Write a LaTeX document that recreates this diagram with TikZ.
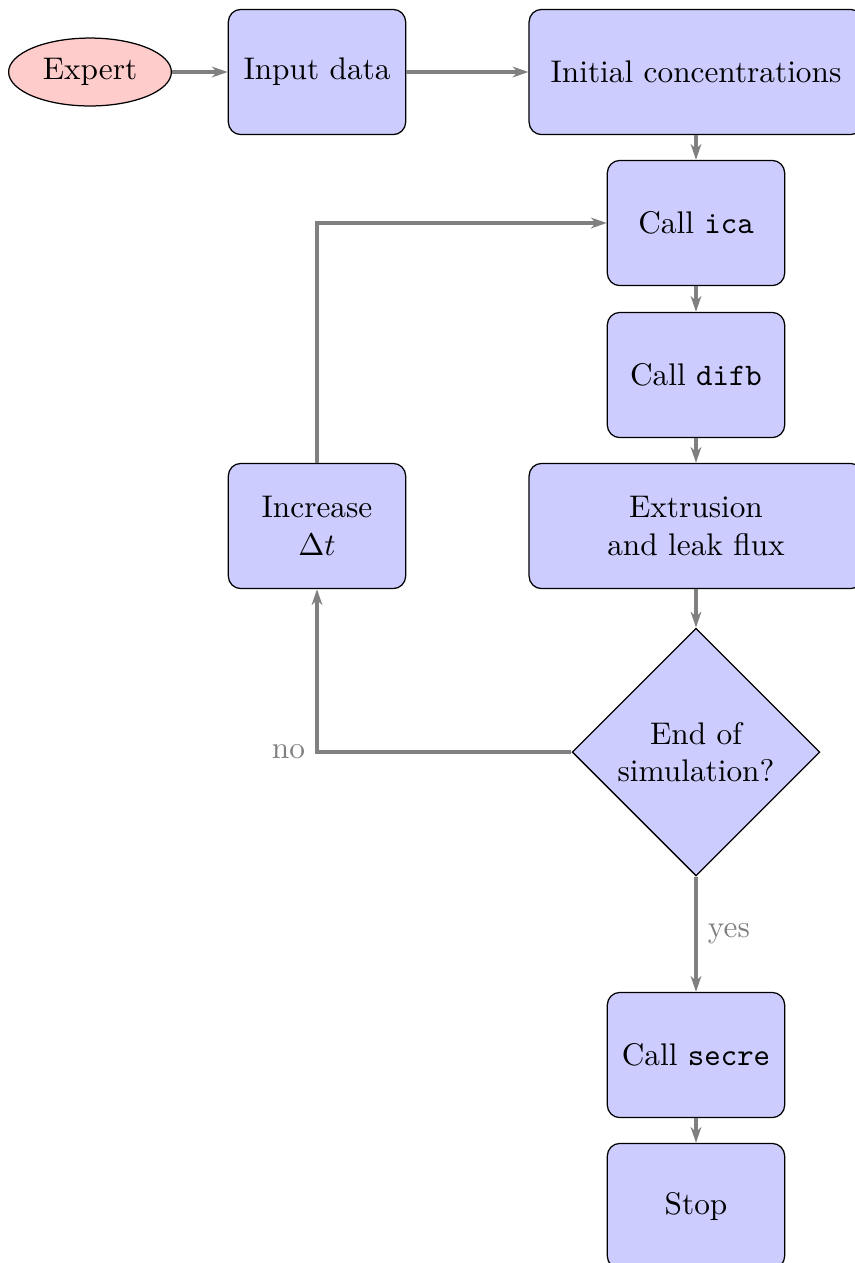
\documentclass[tikz,border=0pt]{standalone}
\usetikzlibrary{shapes.geometric,arrows.meta}
\begin{document}
\begin{tikzpicture}[
    x=0.3195pt, y=-0.3195pt,
    block/.style={rectangle, draw, fill=blue!20, text width=5em, align=center,
                  rounded corners, minimum height=4em},
    wideblock/.style={block, text width=10em},
    decision/.style={diamond, draw, fill=blue!20, text width=6em, align=center,
                     inner sep=0pt, minimum width=79pt, minimum height=79pt},
    cloud/.style={ellipse, draw, fill=red!20, inner sep=0pt,
                  minimum width=52pt, minimum height=21.7pt},
    flow/.style={draw=gray, line width=1pt, -{Stealth[length=5pt,width=3.4pt,inset=1.5pt]}},
    lbl/.style={text=gray}
  ]
  \useasboundingbox (0,0) rectangle (854,1263);

  % nodes
  \node[cloud]      (expert)  at (90,72)   {Expert};
  \node[block]      (input)   at (317,72)  {Input data};
  \node[wideblock]  (init)    at (696,72)  {Initial concentrations};
  \node[block]      (ica)     at (696,223) {Call \texttt{ica}};
  \node[block]      (difb)    at (696,375) {Call \texttt{difb}};
  \node[block]      (incr)    at (317,526) {Increase\\$\Delta t$};
  \node[wideblock]  (extr)    at (696,526) {Extrusion\\and leak flux};
  \node[decision]   (endsim)  at (696,752) {End of\\simulation?};
  \node[block]      (secre)   at (696,1055) {Call \texttt{secre}};
  \node[block]      (stop)    at (696,1206) {Stop};

  % connectors
  \draw[flow] (expert) -- (input);
  \draw[flow] (input) -- (init);
  \draw[flow] (init) -- (ica);
  \draw[flow] (ica) -- (difb);
  \draw[flow] (difb) -- (extr);
  \draw[flow] (extr) -- (endsim);
  \draw[flow] (endsim) -- node[lbl, right, pos=0.5] {yes} (secre);
  \draw[flow] (secre) -- (stop);
  \draw[flow] (endsim.west) -| node[lbl, pos=0.5, anchor=east] {no} (incr.south);
  \draw[flow] (incr.north) |- (ica.west);
\end{tikzpicture}
\end{document}
